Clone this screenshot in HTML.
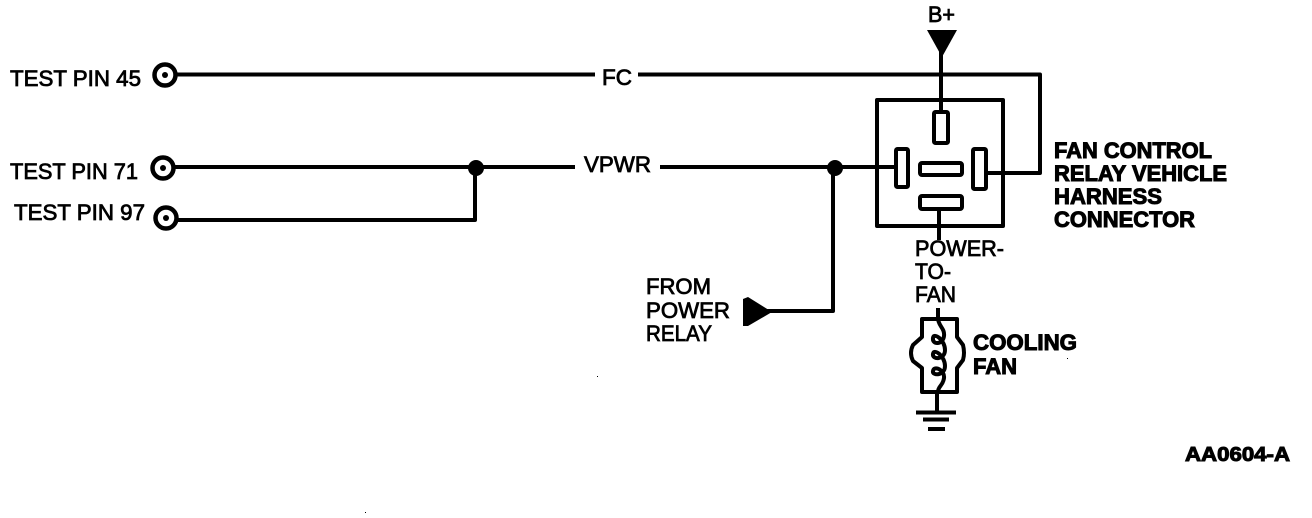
<!DOCTYPE html>
<html>
<head>
<meta charset="utf-8">
<style>
html,body{margin:0;padding:0;background:#fff;}
svg{display:block;}
text{font-family:"Liberation Sans",sans-serif;fill:#000;}
.n{font-size:22.5px;stroke:#000;stroke-width:.8px;}
.b{font-size:22px;font-weight:bold;stroke:#000;stroke-width:1px;}
.w{fill:none;stroke:#000;stroke-width:4;stroke-linejoin:round;}
</style>
</head>
<body>
<svg width="1312" height="518" viewBox="0 0 1312 518" xmlns="http://www.w3.org/2000/svg">
<rect width="1312" height="518" fill="#fff"/>

<!-- test pins -->
<circle class="w" cx="165" cy="75" r="10.5" style="stroke-width:4.5"/><circle cx="165" cy="75" r="3"/>
<circle class="w" cx="163" cy="168" r="10.5" style="stroke-width:4.5"/><circle cx="163" cy="168" r="3"/>
<circle class="w" cx="166" cy="218" r="10.5" style="stroke-width:4.5"/><circle cx="166" cy="218" r="3"/>

<!-- wires -->
<path class="w" d="M177 74.500H595M638 74.500H1040V173H986"/>
<path class="w" d="M175 167H575M660 167H895"/>
<path class="w" d="M178 220H475V167"/>
<path class="w" d="M833 167V311H765"/>
<circle cx="476" cy="168" r="8"/>
<circle cx="835" cy="168" r="8"/>
<polygon points="743,299 748,297 772,312 748,326 743,326" fill="#000"/>

<!-- relay connector -->
<rect class="w" x="877" y="100" width="126" height="126"/>
<path class="w" d="M941 50V112"/>
<polygon points="927,30 957,30 942,57" fill="#000"/>
<rect class="w" x="934" y="112" width="14" height="31" rx="1.500"/>
<rect class="w" x="896" y="149" width="12" height="38" rx="1.500"/>
<rect class="w" x="973" y="149" width="13" height="40" rx="1.500"/>
<rect class="w" x="920" y="163" width="42" height="12" rx="2"/>
<rect class="w" x="920" y="196" width="42" height="13" rx="2"/>
<path class="w" d="M939 209V240"/>

<!-- fan -->
<path class="w" d="M938 308V318"/>
<path class="w" d="M922 319H957V337L963 345Q965 353 963 360L957 368V392H922V368L913 361Q909 353 913 345L922 337Z"/>
<path class="w" d="M938 318C938 326 945 328 944 336C943 345 932 345 933 338C934 332 945 340 945 350C945 360 932 360 933 354C934 348 945 356 945 366C945 376 932 376 933 371C934 365 945 370 944 378C943 386 938 386 938 392"/>
<path class="w" d="M937 392V412"/>
<path class="w" d="M916 412.500H956M923 419.500H949M928 429H945"/>

<!-- labels -->
<text class="n" x="10" y="86" textLength="131" lengthAdjust="spacingAndGlyphs">TEST PIN 45</text>
<text class="n" x="10" y="179" textLength="128" lengthAdjust="spacingAndGlyphs">TEST PIN 71</text>
<text class="n" x="14" y="220" textLength="131" lengthAdjust="spacingAndGlyphs">TEST PIN 97</text>
<text class="n" x="602" y="85" textLength="30" lengthAdjust="spacingAndGlyphs">FC</text>
<text class="n" x="584" y="172" textLength="67" lengthAdjust="spacingAndGlyphs">VPWR</text>
<text class="n" x="928" y="22" textLength="27" lengthAdjust="spacingAndGlyphs">B+</text>
<text class="n" x="646" y="294" textLength="65" lengthAdjust="spacingAndGlyphs">FROM</text>
<text class="n" x="646" y="318" textLength="84" lengthAdjust="spacingAndGlyphs">POWER</text>
<text class="n" x="646" y="341" textLength="66" lengthAdjust="spacingAndGlyphs">RELAY</text>
<text class="n" x="915" y="256" textLength="89" lengthAdjust="spacingAndGlyphs">POWER-</text>
<text class="n" x="915" y="279" textLength="36" lengthAdjust="spacingAndGlyphs">TO-</text>
<text class="n" x="915" y="302" textLength="41" lengthAdjust="spacingAndGlyphs">FAN</text>
<text class="b" x="1054" y="158" textLength="158" lengthAdjust="spacingAndGlyphs">FAN CONTROL</text>
<text class="b" x="1054" y="181" textLength="173" lengthAdjust="spacingAndGlyphs">RELAY VEHICLE</text>
<text class="b" x="1054" y="204" textLength="108" lengthAdjust="spacingAndGlyphs">HARNESS</text>
<text class="b" x="1054" y="227" textLength="141" lengthAdjust="spacingAndGlyphs">CONNECTOR</text>
<text class="b" x="973" y="350" textLength="104" lengthAdjust="spacingAndGlyphs">COOLING</text>
<text class="b" x="973" y="374" textLength="44" lengthAdjust="spacingAndGlyphs">FAN</text>
<text class="b" x="1185" y="461" textLength="105" lengthAdjust="spacingAndGlyphs" style="font-size:20px">AA0604-A</text>

<!-- specks -->
<rect x="597" y="376" width="1" height="1"/>
<rect x="1067" y="358" width="1" height="1"/>
<rect x="365" y="512" width="1" height="1"/>
</svg>
</body>
</html>
